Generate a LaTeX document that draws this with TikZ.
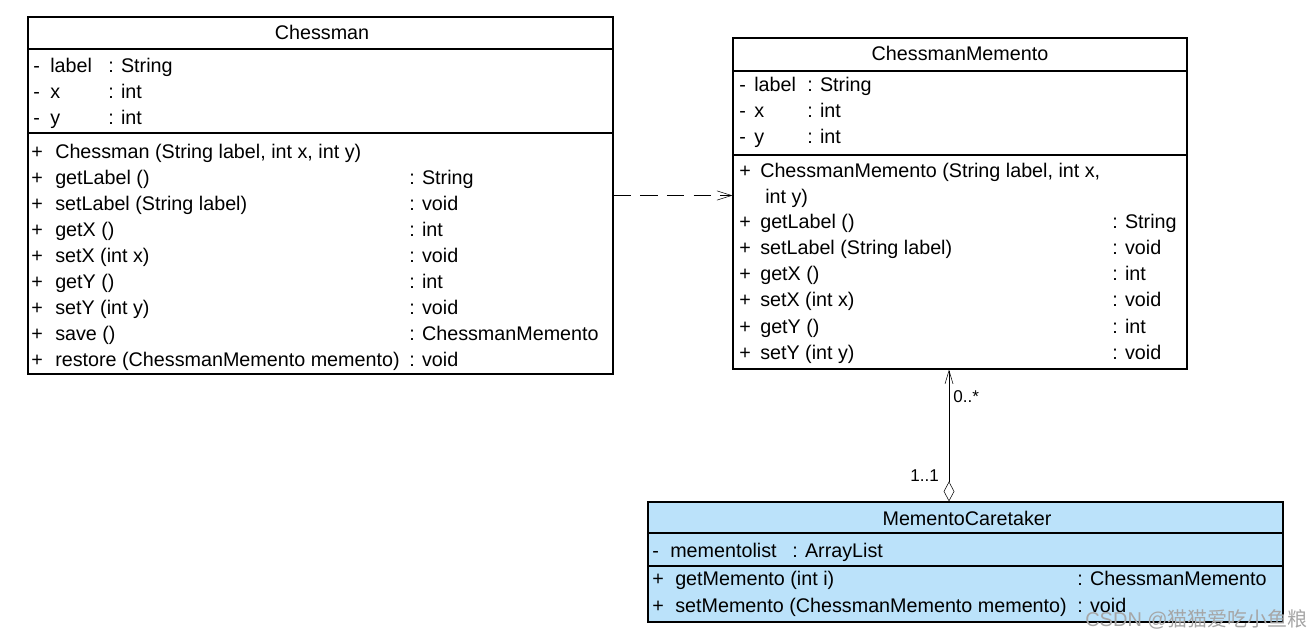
\documentclass[tikz,border=0pt]{standalone}
\usepackage{fontspec}
\setmainfont{Liberation Sans}
\newfontfamily\cjkfont{Noto Sans CJK SC}
\usetikzlibrary{arrows.meta,positioning}
\definecolor{caretakerblue}{RGB}{187,226,250}

\begin{document}
\begin{tikzpicture}[x=0.75pt,y=-0.75pt,
    font=\fontsize{14.8}{17}\selectfont,
    umlclass/.style={draw,line width=0.9pt,inner sep=0pt},
    txt/.style={anchor=base west,inner sep=0pt},
    mult/.style={inner sep=0pt,font=\fontsize{12.8}{14}\selectfont},
    dep/.style={dash pattern=on 13pt off 7pt,-{Straight Barb[length=11pt,width=7pt]}},
    agg/.style={{Diamond[open,length=15pt,width=8pt]}-{Straight Barb[length=10pt,width=6pt]}}]

    \useasboundingbox (0,0) rectangle (1312,638);

    % class boxes
    \node[umlclass,minimum width=438.75pt,minimum height=267.75pt] (chessman) at (320.5,195.5) {};
    \node[umlclass,minimum width=340.5pt,minimum height=248.25pt] (memento) at (960,203.5) {};
    \node[umlclass,fill=caretakerblue,minimum width=476.25pt,minimum height=90pt] (caretaker) at (965.5,562) {};

    \draw[line width=0.9pt] (chessman.west |- 0,49) -- (chessman.east |- 0,49)
                            (chessman.west |- 0,133) -- (chessman.east |- 0,133);
    \draw[line width=0.9pt] (memento.west |- 0,71) -- (memento.east |- 0,71)
                            (memento.west |- 0,155) -- (memento.east |- 0,155);
    \draw[line width=0.9pt] (caretaker.west |- 0,533) -- (caretaker.east |- 0,533)
                            (caretaker.west |- 0,566) -- (caretaker.east |- 0,566);

    % Chessman
    \node[anchor=base,inner sep=0pt] (ch-title) at (322,40) {Chessman};
    \foreach \nm/\ty [count=\i] in {label/String, x/int, y/int} {
        \node[txt] (ch-vis\i) at (33,47+26*\i) {-};
        \node[txt] (ch-att\i) at (50,47+26*\i) {\nm};
        \node[txt] (ch-typ\i) at (108,47+26*\i) {: \ty};
    }
    \node[txt] (ch-plus0) at (31,158) {+};
    \node[txt] (ch-m0) at (55,158) {Chessman (String label, int x, int y)};
    \foreach \nm/\ty [count=\i] in {getLabel ()/String, setLabel (String label)/void,
        getX ()/int, setX (int x)/void, getY ()/int, setY (int y)/void,
        save ()/ChessmanMemento, restore (ChessmanMemento memento)/void} {
        \node[txt] (ch-plus\i) at (31,158+26*\i) {+};
        \node[txt] (ch-m\i) at (55,158+26*\i) {\nm};
        \node[txt] (ch-r\i) at (409,158+26*\i) {: \ty};
    }

    % ChessmanMemento
    \node[anchor=base,inner sep=0pt] (cm-title) at (960,61) {ChessmanMemento};
    \foreach \nm/\ty [count=\i] in {label/String, x/int, y/int} {
        \node[txt] (cm-vis\i) at (739,66+26*\i) {-};
        \node[txt] (cm-att\i) at (754,66+26*\i) {\nm};
        \node[txt] (cm-typ\i) at (807,66+26*\i) {: \ty};
    }
    \node[txt] (cm-plus0) at (739,177) {+};
    \node[txt] (cm-m0) at (760,177) {ChessmanMemento (String label, int x,};
    \node[txt] (cm-m0b) at (765,203) {int y)};
    \foreach \nm/\ty [count=\i] in {getLabel ()/String, setLabel (String label)/void,
        getX ()/int, setX (int x)/void, getY ()/int, setY (int y)/void} {
        \node[txt] (cm-plus\i) at (739,202+26.2*\i) {+};
        \node[txt] (cm-m\i) at (760,202+26.2*\i) {\nm};
        \node[txt] (cm-r\i) at (1112,202+26.2*\i) {: \ty};
    }

    % MementoCaretaker
    \node[anchor=base,inner sep=0pt] (mc-title) at (967,525) {MementoCaretaker};
    \node[txt] (mc-vis1) at (652,557) {-};
    \node[txt] (mc-att1) at (670,557) {mementolist};
    \node[txt] (mc-typ1) at (792,557) {: ArrayList};
    \foreach \nm/\ty [count=\i] in {getMemento (int i)/ChessmanMemento,
        setMemento (ChessmanMemento memento)/void} {
        \node[txt] (mc-plus\i) at (652,558+27*\i) {+};
        \node[txt] (mc-m\i) at (675,558+27*\i) {\nm};
        \node[txt] (mc-r\i) at (1077,558+27*\i) {: \ty};
    }

    % relations
    \draw[dep] (chessman.east) -- (chessman.east -| memento.west);
    \coordinate (link) at (949,436);
    \draw[agg] (link |- caretaker.north) -- (link |- memento.south);
    \node[mult,anchor=west] (many) at (953,397) {0..*};
    \node[mult,anchor=east] (single) at (939,476) {1..1};

    \node[txt,text=gray!70,font=\fontsize{15}{15}\selectfont] (mark) at (1085,626)
        {CSDN @{\cjkfont 猫猫爱吃小鱼粮}};
\end{tikzpicture}
\end{document}
